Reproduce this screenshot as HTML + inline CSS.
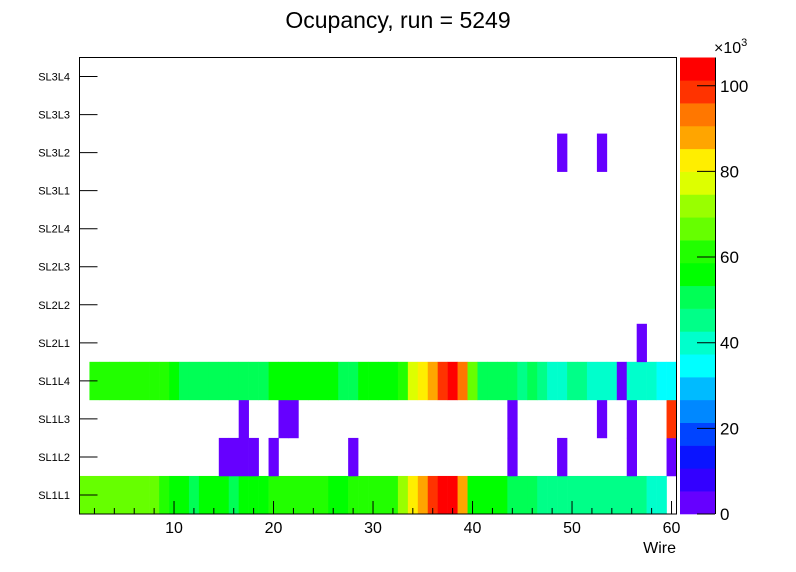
<!DOCTYPE html>
<html><head><meta charset="utf-8">
<style>
html,body{margin:0;padding:0;background:#fff;}
svg{display:block;font-family:"Liberation Sans",sans-serif;}
</style></head>
<body>
<svg id="chart" width="796" height="572" viewBox="0 0 796 572" xmlns="http://www.w3.org/2000/svg">
<rect x="0" y="0" width="796" height="572" fill="#fff"/>
<text x="398" y="28" font-size="23" text-anchor="middle" fill="#000">Ocupancy, run = 5249</text>
<g id="cells"></g>
<rect x="79.5" y="57.5" width="597" height="456.5" fill="none" stroke="#000" stroke-width="1"/>
<g id="axes"></g>
<g id="cbar"></g>
<text x="676" y="553" font-size="16" text-anchor="end" fill="#000">Wire</text>
<text x="714" y="53" font-size="16" fill="#000">×10<tspan font-size="11" dy="-7">3</tspan></text>
</svg>
<script>
// categories (rows, bottom to top)
const layers = ["SL1L1","SL1L2","SL1L3","SL1L4","SL2L1","SL2L2","SL2L3","SL2L4","SL3L1","SL3L2","SL3L3","SL3L4"];
// values in thousands, wires 1..60
const rowSL1L1 = [66.6,66.6,66.6,66.6,66.6,66.6,66.6,66.6,61.3,56,56,50.6,56,56,56,50.6,56,56,56,61.3,61.3,61.3,61.3,61.3,61.3,56,56,61.3,61.3,61.3,61.3,61.3,72,82.6,88,98.6,104,104,88,56,56,56,56,50.6,50.6,50.6,45.3,45.3,45.3,45.3,45.3,45.3,45.3,45.3,45.3,45.3,45.3,40,40,0];
const rowSL1L4 = [0,61.3,61.3,61.3,61.3,61.3,61.3,61.3,61.3,56,50.6,50.6,50.6,50.6,50.6,50.6,50.6,50.6,50.6,56,56,56,56,56,56,56,50.6,50.6,56,56,56,56,61.3,77.3,82.6,88,98.6,104,93.3,66.6,50.6,50.6,50.6,50.6,45.3,50.6,45.3,40,40,45.3,45.3,40,40,40,2.7,40,40,40,34.6,34.6];
// sparse rows: [wire, value]
const rowSL1L2 = [[15,2.7],[16,2.7],[17,2.7],[18,2.7],[20,2.7],[28,2.7],[44,2.7],[49,2.7],[56,2.7],[60,2.7]];
const rowSL1L3 = [[17,2.7],[21,2.7],[22,2.7],[44,2.7],[53,2.7],[56,2.7],[60,98.6]];
const rowSL2L1 = [[57,2.7]];
const rowSL3L2 = [[49,2.7],[53,2.7]];
const xTickLabels = [10,20,30,40,50,60];
const zTickLabels = [0,20,40,60,80,100];
const palette = ["#6600ff","#3300ff","#0a14ff","#0044ff","#0088ff","#00bbff","#00ffff","#00ffcc","#00ff88","#00ff55","#00ff00","#22ff00","#66ff00","#99ff00","#ddff00","#ffee00","#ffa500","#ff7700","#ff3300","#ff0000"];

const NS="http://www.w3.org/2000/svg";
const X0=79.5, X1=676.5, XMIN=0.5, XMAX=60.5;
const Y0=514, Y1=57.5;
const ZMAX=106.6;
const xs = w => X0+(w-XMIN)/(XMAX-XMIN)*(X1-X0);
const rowH=(Y0-Y1)/layers.length;
const ys = i => Y0-(i+1)*rowH;
const zs = z => Y0-z/ZMAX*(Y0-Y1);
function colorFor(v){let k=Math.floor(v/ZMAX*palette.length);if(k<0)k=0;if(k>=palette.length)k=palette.length-1;return palette[k];}
function mk(tag,attrs,parent){const e=document.createElementNS(NS,tag);for(const k in attrs)e.setAttribute(k,attrs[k]);parent.appendChild(e);return e;}

const rows = {SL1L1:rowSL1L1, SL1L4:rowSL1L4};
const sparse = {SL1L2:rowSL1L2, SL1L3:rowSL1L3, SL2L1:rowSL2L1, SL3L2:rowSL3L2};
const cells=document.getElementById('cells');
function cell(li,w,v){
  if(!(v>0))return;
  const r=mk('rect',{x:xs(w-0.5),y:ys(li),width:xs(w+0.5)-xs(w-0.5)+0.3,height:rowH+0.3,fill:colorFor(v)},cells);
  
  
}
layers.forEach((L,li)=>{
  if(rows[L]) rows[L].forEach((v,i)=>cell(li,i+1,v));
  if(sparse[L]) sparse[L].forEach(p=>cell(li,p[0],p[1]));
});

const axes=document.getElementById('axes');
// y labels and ticks
layers.forEach((L,li)=>{
  const yc=ys(li)+rowH/2;
  mk('line',{x1:X0,x2:X0+18,y1:yc,y2:yc,stroke:'#000','stroke-width':1},axes);
  const t=mk('text',{x:70,y:yc+4,'font-size':11,'text-anchor':'end',fill:'#000'},axes);
  t.textContent=L;
  
  
});
// x ticks
for(let w=2;w<=60;w+=2){
  const major = w%10===0;
  mk('line',{x1:xs(w),x2:xs(w),y1:Y0,y2:Y0-(major?13:6),stroke:'#000','stroke-width':1},axes);
}
xTickLabels.forEach(v=>{
  const t=mk('text',{x:xs(v),y:533,'font-size':16,'text-anchor':'middle',fill:'#000'},axes);
  t.textContent=v;
  
  
});
// color bar
const cb=document.getElementById('cbar');
const CX0=680, CX1=715;
palette.forEach((c,i)=>{
  const z0=i*ZMAX/palette.length, z1=(i+1)*ZMAX/palette.length;
  const r=mk('rect',{x:CX0,y:zs(z1),width:CX1-CX0,height:zs(z0)-zs(z1)+0.3,fill:c},cb);
  
  
});
mk('line',{x1:CX1+0.5,x2:CX1+0.5,y1:Y1,y2:Y0,stroke:'#000','stroke-width':1},cb);
zTickLabels.forEach(v=>{
  mk('line',{x1:CX1-18,x2:CX1,y1:zs(v),y2:zs(v),stroke:'#000','stroke-width':1},cb);
  const t=mk('text',{x:720,y:zs(v)+6,'font-size':17,fill:'#000'},cb);
  t.textContent=v;
  
  
});
</script>
</body></html>
